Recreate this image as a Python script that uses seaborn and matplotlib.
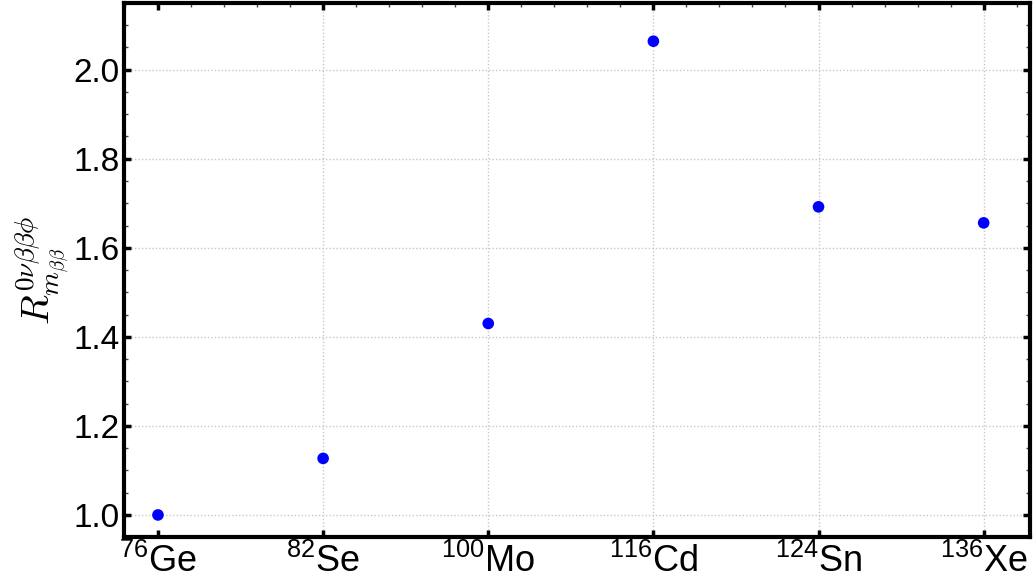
import matplotlib
matplotlib.use("Agg")
import matplotlib.pyplot as plt
from matplotlib.ticker import MultipleLocator
import seaborn as sns
import pandas as pd

# Isotopes and ratio values
isotopes = ["Ge", "Se", "Mo", "Cd", "Sn", "Xe"]
mass_numbers = ["76", "82", "100", "116", "124", "136"]
ratio = [1.000, 1.127, 1.430, 2.064, 1.692, 1.656]
y_ticks = [1.0, 1.2, 1.4, 1.6, 1.8, 2.0]

sns.set_theme(style="white")
plt.rcParams["font.family"] = ["Liberation Sans", "DejaVu Sans"]
plt.rcParams["mathtext.fontset"] = "custom"
plt.rcParams["mathtext.rm"] = "Liberation Sans"
plt.rcParams["mathtext.it"] = "Liberation Sans:italic"
plt.rcParams["text.color"] = "black"
plt.rcParams["xtick.color"] = "black"
plt.rcParams["ytick.color"] = "black"
plt.rcParams["axes.labelcolor"] = "black"

df = pd.DataFrame({"isotope": isotopes, "ratio": ratio})

fig = plt.figure(figsize=(10.33, 5.83), dpi=100)
ax = fig.add_axes([0.120, 0.079, 0.877, 0.916])

sns.scatterplot(data=df, x="isotope", y="ratio", ax=ax, color="#0000ff",
                s=70, edgecolor="none", zorder=3)

ax.set_xlim(-0.206, 5.28)
ax.set_ylim(0.9506, 2.150)

ax.set_xticks(range(len(isotopes)))
ax.set_xticklabels([rf"$^{{{m}}}$" + name for m, name in zip(mass_numbers, isotopes)],
                   fontsize=26)
ax.set_yticks(y_ticks)
ax.set_yticklabels([f"{v:.1f}" for v in y_ticks], fontsize=24)
ax.xaxis.set_minor_locator(MultipleLocator(0.2))
ax.yaxis.set_minor_locator(MultipleLocator(0.05))

ax.tick_params(which="major", direction="in", length=5, width=2.5, color="black",
               top=True, bottom=True, left=True, right=True, pad=3)
ax.tick_params(which="minor", direction="in", length=3, width=1, color="#444444",
               top=True, bottom=False, left=True, right=True)
ax.tick_params(axis="x", which="major", pad=5)

ax.grid(True, which="major", color="#c8c8c8", linestyle=(0, (1, 1.5)), linewidth=1)
ax.xaxis.get_gridlines()[0].set_visible(False)
ax.set_axisbelow(True)

for sp in ax.spines.values():
    sp.set_color("black")
    sp.set_linewidth(3)

ax.set_xlabel("")
ax.set_ylabel(r"$R^{0\nu\beta\beta\phi}_{m_{\beta\beta}}$", fontsize=28,
              math_fontfamily="cm", labelpad=2)

fig.savefig("out.png", dpi=100, facecolor="white")
